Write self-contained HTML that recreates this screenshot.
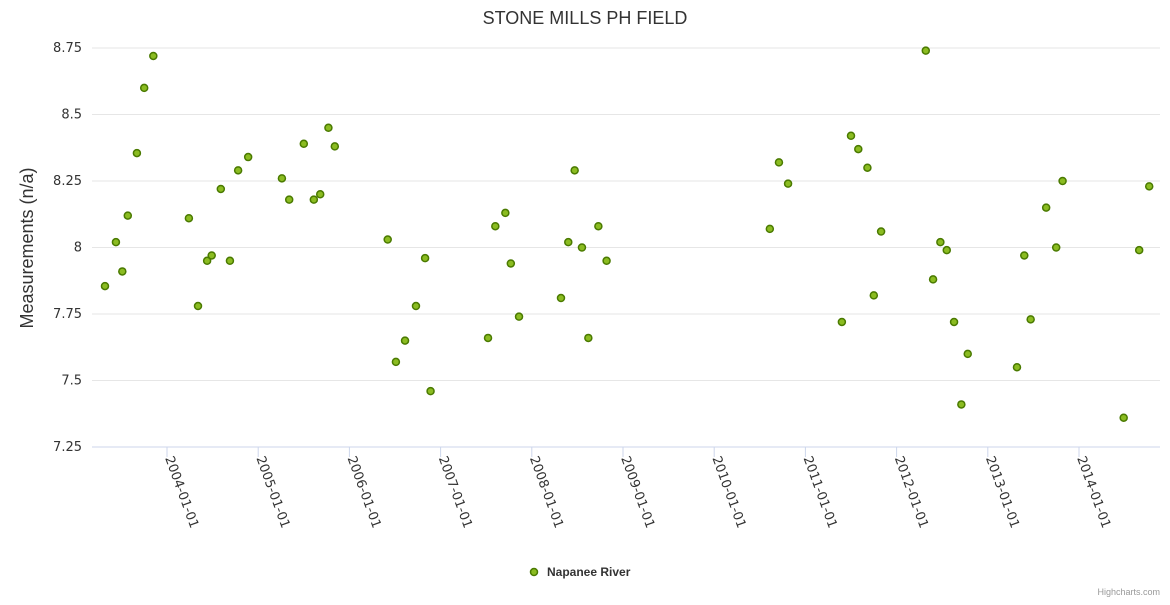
<!DOCTYPE html>
<html><head><meta charset="utf-8"><style>
body{margin:0;background:#fff;font-family:"Liberation Sans",sans-serif}
</style></head><body>
<svg id="c" width="1170" height="600" xmlns="http://www.w3.org/2000/svg" font-family="Liberation Sans, sans-serif">
<text x="585" y="24" text-anchor="middle" font-size="18" fill="#333">STONE MILLS PH FIELD</text>
<text transform="translate(33,248) rotate(-90)" text-anchor="middle" font-size="18" fill="#333">Measurements (n/a)</text>
<g id="grid"></g><g id="xax"></g><g id="pts"></g>
<g>
<circle cx="534" cy="572" r="3.5" fill="#8bbc21" stroke="#4a7a00" stroke-width="1.5"/>
<text x="547" y="576" font-size="12" font-weight="bold" fill="#333">Napanee River</text></g>
<text x="1160" y="595" text-anchor="end" font-size="9" fill="#999">Highcharts.com</text>
</svg>
<script>
const yTicks=[7.25,7.5,7.75,8,8.25,8.5,8.75];
const yTickLabels=["7.25","7.5","7.75","8","8.25","8.5","8.75"];
const xTickYears=[2004,2005,2006,2007,2008,2009,2010,2011,2012,2013,2014];
const xTickLabels=xTickYears.map(y=>y+"-01-01");
const dates=[2003.32,2003.44,2003.51,2003.57,2003.67,2003.75,2003.85,2004.24,2004.34,2004.44,2004.49,2004.59,2004.69,2004.78,2004.89,2005.26,2005.34,2005.50,2005.61,2005.68,2005.77,2005.84,2006.42,2006.51,2006.61,2006.73,2006.83,2006.89,2007.52,2007.60,2007.71,2007.77,2007.86,2008.32,2008.40,2008.47,2008.55,2008.62,2008.73,2008.82,2010.61,2010.71,2010.81,2011.40,2011.50,2011.58,2011.68,2011.75,2011.83,2012.32,2012.40,2012.48,2012.55,2012.63,2012.71,2012.78,2013.32,2013.40,2013.47,2013.64,2013.75,2013.82,2014.49,2014.66,2014.77];
const values=[7.855,8.02,7.91,8.12,8.355,8.60,8.72,8.11,7.78,7.95,7.97,8.22,7.95,8.29,8.34,8.26,8.18,8.39,8.18,8.20,8.45,8.38,8.03,7.57,7.65,7.78,7.96,7.46,7.66,8.08,8.13,7.94,7.74,7.81,8.02,8.29,8.00,7.66,8.08,7.95,8.07,8.32,8.24,7.72,8.42,8.37,8.30,7.82,8.06,8.74,7.88,8.02,7.99,7.72,7.41,7.60,7.55,7.97,7.73,8.15,8.00,8.25,7.36,7.99,8.23];
const NS="http://www.w3.org/2000/svg";
const X0=92,X1=1160,Y0=447,Y1=48;
const xs=yr=>167+(yr-2004)*91.2;
const ys=v=>Y0-(v-7.25)/1.5*(Y0-Y1);
function mk(t,a,p){const e=document.createElementNS(NS,t);for(const k in a)e.setAttribute(k,a[k]);p.appendChild(e);return e;}
const grid=document.getElementById('grid');
yTicks.forEach((v,i)=>{
  const l=mk('line',{x1:X0,x2:X1,y1:ys(v),y2:ys(v),stroke:i==0?'#ccd6eb':'#e6e6e6','stroke-width':1},grid);
  
  
  const t=mk('text',{x:82,y:ys(v)+4,'text-anchor':'end','font-size':13,fill:'#333','font-family':'DejaVu Sans, sans-serif'},grid);
  t.textContent=yTickLabels[i];
  
  
});
const xax=document.getElementById('xax');
xTickYears.forEach((yr,i)=>{
  const x=xs(yr);
  const l=mk('line',{x1:x,x2:x,y1:Y0,y2:Y0+10,stroke:'#ccd6eb'},xax);
  
  
  const t=mk('text',{transform:`translate(${x-2},${Y0+11}) rotate(70)`,'font-size':13,fill:'#333','font-family':'DejaVu Sans, sans-serif'},xax);
  t.textContent=xTickLabels[i];
  
  
});
const pts=document.getElementById('pts');
dates.forEach((d,i)=>{
  const c=mk('circle',{cx:xs(d),cy:ys(values[i]),r:3.5,fill:'#8bbc21',stroke:'#4a7a00','stroke-width':1.5},pts);
  
  
});
</script>
</body></html>
